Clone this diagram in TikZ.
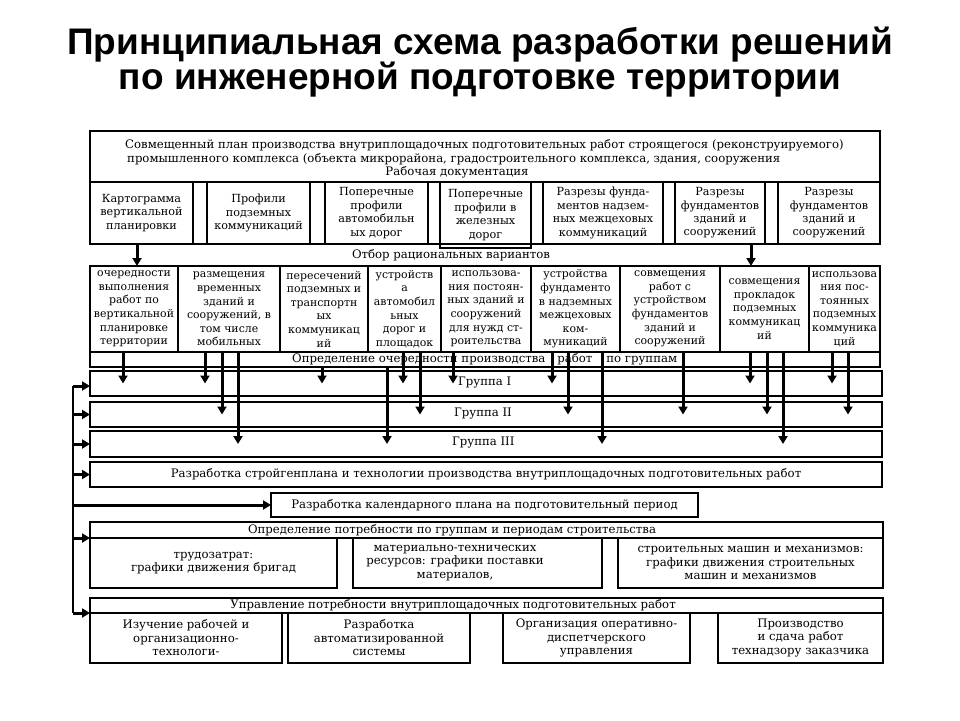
\documentclass[tikz,border=0pt]{standalone}
\usepackage{fontspec}
\setmainfont{DejaVu Serif}
\newfontfamily\titlefont{Liberation Sans}
\usetikzlibrary{arrows.meta}
\newcommand\txt{\fontsize{11.7}{13.5}\selectfont}
\newcommand\rowtxt{\fontsize{10.9}{13.6}\selectfont}
\newcommand\toptxt{\fontsize{11.2}{13.4}\selectfont}
\tikzset{
 boxst/.style={draw, line width=1.1pt, inner sep=0.5pt, outer sep=0pt, align=center, font=\txt},
 rowbox/.style={boxst, font=\rowtxt},
 topbox/.style={boxst, font=\toptxt},
 arr/.style={line width=3pt, -{Triangle[width=9pt,length=8pt]}},
 lbl/.style={inner sep=0pt, font=\txt},
 titlest/.style={inner sep=0pt, font=\titlefont\bfseries\fontsize{37}{40}\selectfont},
}
% \rbox[opts]{x1}{y1}{x2}{y2}{name}{text}
\newcommand\rbox[7][]{\node[boxst,#1,minimum width={(#4-#2)*1pt},minimum height={(#5-#3)*1pt}] (#6) at ({(#2+#4)/2},{(#3+#5)/2}) {#7};}
\begin{document}
\begin{tikzpicture}[x=1pt,y=-1pt]
\useasboundingbox (0,0) rectangle (960,720);
\fill[white] (0,0) rectangle (960,720);
% title
\node[titlest] (t1) at (480,45) {Принципиальная схема разработки решений};
\node[titlest] (t2) at (480,80) {по инженерной подготовке территории};
% header
\rbox{90}{131}{880}{182}{hdr}{}
\node[lbl, anchor=west] (h1) at (125,145) {Совмещенный план производства внутриплощадочных подготовительных работ строящегося (реконструируемого)};
\node[lbl, anchor=west] (h2) at (127,159) {промышленного комплекса (объекта микрорайона, градостроительного комплекса, здания, сооружения};
\node[lbl] (h3) at (457,172) {Рабочая документация};
% top row
\rbox{90}{182}{880}{244}{toprow}{}
\rbox[topbox]{90}{182}{193}{244}{c1}{Картограмма\\вертикальной\\планировки}
\rbox[topbox]{207}{182}{310}{244}{c2}{Профили\\подземных\\коммуникаций}
\rbox[topbox]{325}{182}{428}{244}{c3}{Поперечные\\профили\\автомобильн\\ых дорог}
\rbox[topbox]{440}{182}{531}{248}{c4}{Поперечные\\профили в\\железных\\дорог}
\rbox[topbox]{543}{182}{663}{244}{c5}{Разрезы фунда-\\ментов надзем-\\ных межцеховых\\коммуникаций}
\rbox[topbox]{675}{182}{765}{244}{c6}{Разрезы\\фундаментов\\зданий и\\сооружений}
\rbox[topbox]{778}{182}{880}{244}{c7}{Разрезы\\фундаментов\\зданий и\\сооружений}
\node[lbl] (otb) at (451,255) {Отбор рациональных вариантов};
% second row
\rbox[rowbox]{90}{266}{178}{352}{A}{очередности\\выполнения\\работ по\\вертикальной\\планировке\\территории}
\rbox[rowbox]{178}{266}{280}{352}{B}{размещения\\временных\\зданий и\\сооружений, в\\том числе\\мобильных}
\rbox[rowbox]{280}{266}{368}{352}{C}{пересечений\\подземных и\\транспортн\\ых\\коммуникац\\ий}
\rbox[rowbox]{368}{266}{441}{352}{D}{устройств\\а\\автомобил\\ьных\\дорог и\\площадок}
\rbox[rowbox]{441}{266}{531}{352}{E}{использова-\\ния постоян-\\ных зданий и\\сооружений\\для нужд ст-\\роительства}
\rbox[rowbox]{531}{266}{620}{352}{F}{устройства\\фундаменто\\в надземных\\межцеховых\\ком-\\муникаций}
\rbox[rowbox]{620}{266}{720}{352}{G}{совмещения\\работ с\\устройством\\фундаментов\\зданий и\\сооружений}
\rbox[rowbox]{720}{266}{809}{352}{H}{совмещения\\прокладок\\подземных\\коммуникац\\ий}
\rbox[rowbox]{809}{266}{880}{352}{I}{использова\\ния пос-\\тоянных\\подземных\\коммуника\\ций}
% band
\rbox{90}{352}{880}{367}{band}{}
\node[lbl, anchor=west] (bandtxt) at (292,359.5) {Определение очередности производства\hspace{12pt}работ\hspace{14pt}по группам};
% groups
\rbox{90}{371}{882}{396}{g1}{}
\rbox[line width=2.4pt]{90}{402}{882}{427}{g2}{}
\rbox{90}{431}{882}{457}{g3}{}
\node[lbl, anchor=west] (g1t) at (458,383) {Группа I};
\node[lbl, anchor=west] (g2t) at (454,413.5) {Группа II};
\node[lbl, anchor=west] (g3t) at (452,443) {Группа III};
\rbox{90}{462}{882}{487}{sgp}{Разработка стройгенплана и технологии производства внутриплощадочных подготовительных работ}
\rbox{271}{493}{698}{517}{cal}{Разработка календарного плана на подготовительный период}
\rbox{90}{522}{883}{538}{potr}{}
\node[lbl] (potrt) at (452,530) {Определение потребности по группам и периодам строительства};
\rbox{90}{538}{337}{588}{p1}{трудозатрат:\\графики движения бригад}
\rbox{353}{538}{602}{588}{p2}{}
\node[lbl, align=center] (p2t) at (455,563) {материально-технических\\ресурсов: графики поставки\\материалов,};
\rbox{618}{538}{883}{588}{p3}{строительных машин и механизмов:\\графики движения строительных\\машин и механизмов}
\rbox{90}{598}{883}{613}{upr}{}
\node[lbl] (uprt) at (453,605.5) {Управление потребности внутриплощадочных подготовительных работ};
\rbox{90}{613}{282}{663}{u1}{Изучение рабочей и\\организационно-\\технологи-}
\rbox{288}{613}{470}{663}{u2}{Разработка\\автоматизированной\\системы}
\rbox{503}{613}{690}{663}{u3}{Организация оперативно-\\диспетчерского\\управления}
\rbox{718}{613}{883}{663}{u4}{Производство\\и сдача работ\\технадзору заказчика}
% short arrows top row -> second row
\draw[arr] (toprow.south -| 137,0) -- (A.north -| 137,0);
\draw[arr] (toprow.south -| 751,0) -- (H.north -| 751,0);
% arrows to groups
\foreach \x/\s/\t in {123/A/g1, 205/B/g1, 222/B/g2, 238/B/g3, 322/band/g1, 387/band/g3, 403/D/g1, 420/D/g2, 453/E/g1, 552/F/g1, 568/F/g2, 602/F/g3, 683/G/g2, 750/H/g1, 767/H/g2, 783/H/g3, 832/I/g1, 848/I/g2}
  \draw[arr] (\s.south -| \x,0) -- (\t.center -| \x,0);
% bus on the left
\coordinate (busTop) at (73,386);
\coordinate (busBot) at (upr.south west -| 73,0);
\draw[line width=2.2pt] (busTop) -- (busBot);
\draw[arr] (busTop) -- (busTop -| g1.west);
\draw[arr] (g2.west -| 73,0) -- (g2.west);
\draw[arr] (g3.west -| 73,0) -- (g3.west);
\draw[arr] (sgp.west -| 73,0) -- (sgp.west);
\draw[arr] (cal.west -| 73,0) -- (cal.west);
\draw[arr] (potr.south west -| 73,0) -- (potr.south west);
\draw[arr] (busBot) -- (upr.south west);
\end{tikzpicture}
\end{document}
